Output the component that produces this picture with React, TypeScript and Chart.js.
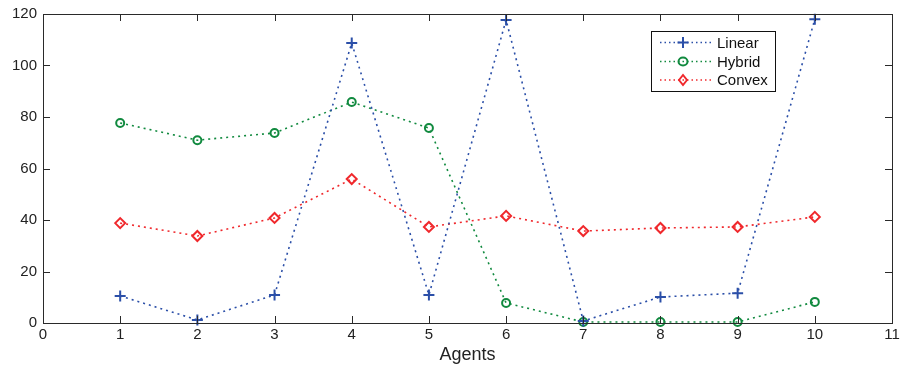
import React, { useEffect, useRef } from "react";
import { Chart, registerables } from "chart.js";

Chart.register(...registerables);

const agents = [1, 2, 3, 4, 5, 6, 7, 8, 9, 10];
const linearValues = [10.5, 1.2, 10.9, 108.7, 10.9, 117.7, 0.8, 10.1, 11.6, 118];
const hybridValues = [77.7, 71, 73.8, 85.8, 75.7, 7.8, 0.4, 0.4, 0.4, 8.2];
const convexValues = [38.8, 33.8, 40.8, 55.9, 37.3, 41.6, 35.7, 36.9, 37.3, 41.2];
const seriesNames = ["Linear", "Hybrid", "Convex"];
const seriesColors = ["#2b4fa8", "#118a3f", "#f0282c"];
const seriesStyles = ["cross", "circle", "rectRot"];
const xTickValues = [0, 1, 2, 3, 4, 5, 6, 7, 8, 9, 10, 11];
const yTickValues = [0, 20, 40, 60, 80, 100, 120];
const xTitle = "Agents";

const FONT = "'Liberation Sans', Arial, Helvetica, sans-serif";

function drawMarker(ctx: CanvasRenderingContext2D, style: string, x: number, y: number, color: string) {
  ctx.save();
  ctx.strokeStyle = color;
  ctx.lineWidth = 2;
  ctx.setLineDash([]);
  ctx.beginPath();
  if (style === "cross") {
    const r = 5.5;
    ctx.moveTo(x - r, y);
    ctx.lineTo(x + r, y);
    ctx.moveTo(x, y - r);
    ctx.lineTo(x, y + r);
  } else if (style === "circle") {
    ctx.ellipse(x, y, 4.5, 4, 0, 0, Math.PI * 2);
  } else {
    const r = 5;
    ctx.moveTo(x - r * 0.8, y);
    ctx.lineTo(x, y - r);
    ctx.lineTo(x + r * 0.8, y);
    ctx.lineTo(x, y + r);
    ctx.closePath();
  }
  ctx.stroke();
  ctx.restore();
}

const boxPlugin = {
  id: "matlabBox",
  afterDraw(chart: any) {
    const ctx: CanvasRenderingContext2D = chart.ctx;
    const { left, right, top, bottom } = chart.chartArea;
    const xs = chart.scales.x;
    const ys = chart.scales.y;
    ctx.save();
    ctx.strokeStyle = "#2a2a2a";
    ctx.lineWidth = 1;
    ctx.setLineDash([]);
    ctx.strokeRect(Math.round(left) + 0.5, Math.round(top) + 0.5, Math.round(right - left), Math.round(bottom - top));
    const tl = 7;
    ctx.beginPath();
    xTickValues.forEach((v) => {
      const px = Math.round(xs.getPixelForValue(v)) + 0.5;
      ctx.moveTo(px, bottom);
      ctx.lineTo(px, bottom - tl);
      ctx.moveTo(px, top);
      ctx.lineTo(px, top + tl);
    });
    yTickValues.forEach((v) => {
      const py = Math.round(ys.getPixelForValue(v)) + 0.5;
      ctx.moveTo(left, py);
      ctx.lineTo(left + tl, py);
      ctx.moveTo(right, py);
      ctx.lineTo(right - tl, py);
    });
    ctx.stroke();

    // legend
    const bx = 651, by = 31, bw = 124, bh = 60;
    ctx.fillStyle = "#ffffff";
    ctx.fillRect(bx, by, bw, bh);
    ctx.strokeStyle = "#111";
    ctx.strokeRect(bx + 0.5, by + 0.5, bw, bh);
    const rows = [42.5, 61.5, 80];
    ctx.font = `15px ${FONT}`;
    ctx.textBaseline = "middle";
    ctx.textAlign = "left";
    seriesNames.forEach((name, i) => {
      const y = rows[i];
      ctx.save();
      ctx.strokeStyle = seriesColors[i];
      ctx.lineWidth = 1.5;
      ctx.setLineDash([1.5, 3]);
      ctx.beginPath();
      ctx.moveTo(660, y);
      ctx.lineTo(712, y);
      ctx.stroke();
      ctx.restore();
      drawMarker(ctx, seriesStyles[i], 683, y, seriesColors[i]);
      ctx.fillStyle = "#111";
      ctx.fillText(name, 717, y + 1);
    });
    ctx.restore();
  },
};

export default function App() {
  const ref = useRef<HTMLCanvasElement | null>(null);
  useEffect(() => {
    if (!ref.current) return;
    const values = [linearValues, hybridValues, convexValues];
    const chart = new Chart(ref.current, {
      type: "line",
      data: {
        datasets: seriesNames.map((name, i) => ({
          label: name,
          data: agents.map((a, j) => ({ x: a, y: values[i][j] })),
          borderColor: seriesColors[i],
          backgroundColor: "rgba(0,0,0,0)",
          borderWidth: 1.6,
          borderDash: [2, 4],
          pointStyle: seriesStyles[i] as any,
          pointRadius: i === 0 ? 5.5 : i === 1 ? 4 : 5,
          pointBorderWidth: 2,
          pointBorderColor: seriesColors[i],
          pointBackgroundColor: "rgba(255,255,255,0)",
          tension: 0,
          clip: false as any,
        })),
      },
      options: {
        animation: false,
        responsive: false,
        events: [],
        layout: { padding: { top: 14, right: 8, left: 0, bottom: 0 } },
        plugins: { legend: { display: false }, tooltip: { enabled: false } },
        scales: {
          x: {
            type: "linear",
            min: 0,
            max: 11,
            afterBuildTicks: (s: any) => {
              s.ticks = xTickValues.map((v) => ({ value: v }));
            },
            afterFit: (s: any) => {
              s.height = 46;
              s.paddingLeft = 0;
              s.paddingRight = 0;
            },
            grid: { display: false, drawTicks: false },
            border: { display: false },
            ticks: { color: "#222", font: { family: FONT, size: 15 }, padding: 3, maxRotation: 0 },
            title: { display: true, text: xTitle, color: "#222", font: { family: FONT, size: 18 }, padding: { top: 0, bottom: 3 } },
          },
          y: {
            type: "linear",
            min: 0,
            max: 120,
            afterBuildTicks: (s: any) => {
              s.ticks = yTickValues.map((v) => ({ value: v }));
            },
            afterFit: (s: any) => {
              s.width = 43;
              s.paddingTop = 0;
              s.paddingBottom = 0;
            },
            grid: { display: false, drawTicks: false },
            border: { display: false },
            ticks: { color: "#222", font: { family: FONT, size: 15 }, padding: 6 },
          },
        },
      },
      plugins: [boxPlugin],
    });
    return () => chart.destroy();
  }, []);
  return (
    <div style={{ position: "fixed", left: 0, top: 0, width: 900, height: 369, background: "#fff" }}>
      <canvas ref={ref} width={900} height={369} style={{ width: 900, height: 369 }} />
    </div>
  );
}
